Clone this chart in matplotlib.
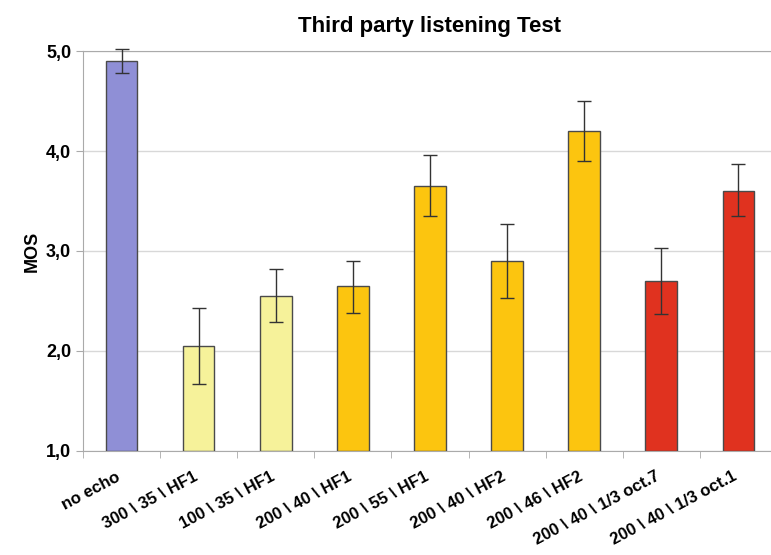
import matplotlib.pyplot as plt
import matplotlib.transforms as mtransforms
import numpy as np

plt.rcParams["font.family"] = ["Liberation Sans", "DejaVu Sans"]

categories = ["no echo", "300 \\ 35 \\ HF1", "100 \\ 35 \\ HF1", "200 \\ 40 \\ HF1",
              "200 \\ 55 \\ HF1", "200 \\ 40 \\ HF2", "200 \\ 46 \\ HF2",
              "200 \\ 40 \\ 1/3 oct.7", "200 \\ 40 \\ 1/3 oct.1"]
mos = [4.9, 2.05, 2.55, 2.65, 3.65, 2.9, 4.2, 2.7, 3.6]
err_hi = [5.02, 2.43, 2.82, 2.9, 3.96, 3.27, 4.5, 3.03, 3.87]
err_lo = [4.78, 1.67, 2.29, 2.38, 3.35, 2.53, 3.9, 2.37, 3.35]
groups = ["ref", "pale", "pale", "gold", "gold", "gold", "gold", "red", "red"]

palette = {"ref": "#8f8fd6", "pale": "#f6f29a", "gold": "#fcc50f", "red": "#e0321f"}

fig = plt.figure(figsize=(7.71, 5.55), dpi=100)
ax = fig.add_axes([0.1077, 0.1874, 0.90, 0.7207])

x = np.arange(len(categories))
mos = np.array(mos)
yerr = np.array([mos - np.array(err_lo), np.array(err_hi) - mos])
ax.bar(x, mos - 1.0, bottom=1.0, width=0.41,
       color=[palette[g] for g in groups], edgecolor="#4a4a4a", linewidth=1.0, zorder=3)
eb = ax.errorbar(x, mos, yerr=yerr, fmt="none", ecolor="#333333", elinewidth=1.0,
                 capsize=5, capthick=1.0, zorder=4)
for artist in eb.lines[1] + eb.lines[2]:
    artist.set_clip_on(False)

ax.set_xlim(-0.5, len(categories) - 0.5)
ax.set_ylim(1.0, 5.0)
ax.set_yticks([1, 2, 3, 4, 5])
ax.set_yticklabels(["1,0", "2,0", "3,0", "4,0", "5,0"], fontsize=13, fontweight="bold")
ax.yaxis.grid(True, color="#d8d8d8", linewidth=1.0, zorder=0)
ax.set_axisbelow(True)

ax.set_xticks(x)
ax.set_xticklabels(categories, rotation=28, ha="right", rotation_mode="anchor",
                   fontsize=12, fontweight="bold")
ax.tick_params(axis="x", length=0, pad=13)
offset = mtransforms.ScaledTranslation(-6 / 100, 0, fig.dpi_scale_trans)
for lbl in ax.get_xticklabels():
    lbl.set_transform(lbl.get_transform() + offset)
ax.set_xticks(np.arange(-0.5, len(categories), 1.0), minor=True)
ax.tick_params(axis="x", which="minor", length=5, color="#aaaaaa")
ax.tick_params(axis="y", length=5, color="#aaaaaa")

for side in ["left", "bottom", "top"]:
    ax.spines[side].set_color("#aaaaaa")
ax.spines["right"].set_visible(False)

ax.set_ylabel("MOS", fontsize=13, fontweight="bold")
ax.set_title("Third party listening Test", fontsize=16, fontweight="bold", pad=14)

plt.savefig("out.png", dpi=100)
